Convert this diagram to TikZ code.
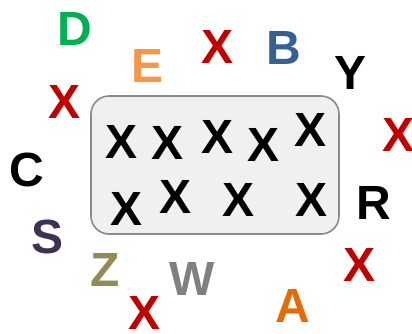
\documentclass[tikz,border=0pt]{standalone}
\usepackage{fontspec}
\setmainfont{Liberation Sans}
\definecolor{xred}{HTML}{C00000}
\definecolor{dgreen}{HTML}{00B050}
\definecolor{eorange}{HTML}{F79646}
\definecolor{bblue}{HTML}{366092}
\definecolor{spurple}{HTML}{3F3151}
\definecolor{zolive}{HTML}{948A54}
\definecolor{wgray}{HTML}{808080}
\definecolor{aorange}{HTML}{E36C09}
\definecolor{boxfill}{HTML}{F0F0F0}
\definecolor{boxline}{HTML}{8A8A8A}
\begin{document}
\begin{tikzpicture}[x=1pt,y=-1pt,
  lett/.style={inner sep=0pt,outer sep=0pt,font=\fontsize{48}{48}\selectfont\bfseries},
  mark/.style={lett},
  redx/.style={lett,text=xred},
  blkx/.style={lett,text=black},
  bigbox/.style={draw=boxline,fill=boxfill,line width=1.6pt,rounded corners=18pt}]
\useasboundingbox (0,0) rectangle (412,333);
\draw[bigbox] (91,96) rectangle (339,234);
% inside X
\node[blkx] (i1) at (122,142) {X};
\node[blkx] (i2) at (168,143) {X};
\node[blkx] (i3) at (218,137) {X};
\node[blkx] (i4) at (264,145) {X};
\node[blkx] (i5) at (311,130) {X};
\node[blkx] (i6) at (127,209) {X};
\node[blkx] (i7) at (176,197) {X};
\node[blkx] (i8) at (239,200) {X};
\node[blkx] (i9) at (312,200) {X};
% outside letters
\node[lett,text=dgreen] (d) at (75,29) {D};
\node[lett,text=eorange] (e) at (148,66) {E};
\node[redx] (x1) at (65,102) {X};
\node[redx] (x2) at (218,47) {X};
\node[lett,text=bblue] (b) at (284,48) {B};
\node[lett,text=black] (y) at (351,73) {Y};
\node[redx] (x3) at (399,135) {X};
\node[lett,text=black] (c) at (27,170) {C};
\node[lett,text=black] (r) at (374,203) {R};
\node[lett,text=spurple] (s) at (48,237) {S};
\node[lett,text=zolive] (z) at (105,270) {Z};
\node[lett,text=wgray] (w) at (192,279) {W};
\node[redx] (x4) at (360,265) {X};
\node[redx] (x5) at (145,313) {X};
\node[lett,text=aorange] (a) at (293,306) {A};
\end{tikzpicture}
\end{document}
